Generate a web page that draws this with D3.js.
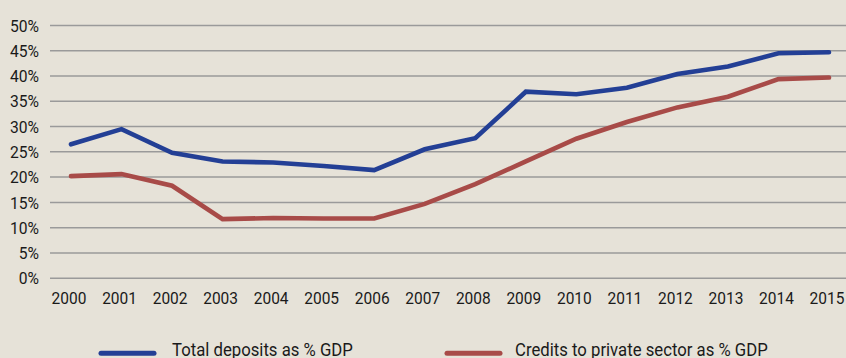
<!DOCTYPE html>
<html>
<head>
<meta charset="utf-8">
<script src="https://cdn.jsdelivr.net/npm/d3@7"></script>
<style>
  html, body { margin: 0; padding: 0; background: #e6e2d8; }
  svg { display: block; }
  text { font-family: Roboto, "Noto Sans", sans-serif; fill: #1a1a1a; }
</style>
</head>
<body>
<svg id="chart" width="846" height="358"></svg>
<script>
// Years on the horizontal axis
const years = [2000, 2001, 2002, 2003, 2004, 2005, 2006, 2007,
               2008, 2009, 2010, 2011, 2012, 2013, 2014, 2015];

// Total deposits, % of GDP
const deposits = [26.4, 29.4, 24.7, 23.0, 22.8, 22.1, 21.3, 25.4,
                  27.6, 36.8, 36.3, 37.6, 40.3, 41.8, 44.4, 44.6];

// Credits to the private sector, % of GDP
const credits = [20.1, 20.5, 18.2, 11.6, 11.8, 11.7, 11.7, 14.6,
                 18.5, 23.0, 27.5, 30.8, 33.7, 35.8, 39.3, 39.6];

// Percent ticks on the vertical axis
const yTicks = [0, 5, 10, 15, 20, 25, 30, 35, 40, 45, 50];

const seriesNames = ["Total deposits as % GDP", "Credits to private sector as % GDP"];
const seriesColors = ["#233f95", "#a84b48"];

const W = 846, H = 358;
const gridLeft = 50, gridRight = W;
const svg = d3.select("#chart");

svg.append("rect").attr("width", W).attr("height", H).attr("fill", "#e6e2d8");

const x = d3.scalePoint().domain(years).range([71, 829]);
const y = d3.scaleLinear().domain([0, 50]).range([277.7, 25]);

// Condense text horizontally to mimic a narrow typeface
function condense(sel, k) {
  sel.each(function () {
    const len = this.getComputedTextLength();
    d3.select(this).attr("textLength", len * k).attr("lengthAdjust", "spacingAndGlyphs");
  });
}

// Horizontal gridlines with percent labels
const yAxis = svg.append("g")
  .attr("transform", `translate(${gridLeft},0)`)
  .call(d3.axisLeft(y)
    .tickValues(yTicks)
    .tickSize(-(gridRight - gridLeft))
    .tickPadding(11)
    .tickFormat(d => d + "%"));
yAxis.select(".domain").remove();
yAxis.selectAll(".tick line").attr("stroke", "#9a9a9a").attr("stroke-width", 1.5);
yAxis.selectAll(".tick text")
  .attr("font-size", 17).attr("fill", "#1a1a1a")
  .attr("font-family", "Roboto, sans-serif")
  .attr("dy", "0.36em");
condense(yAxis.selectAll(".tick text"), 0.92);

// Year labels
const xAxis = svg.append("g")
  .attr("transform", `translate(0,${y(0)})`)
  .call(d3.axisBottom(x).tickSize(0).tickPadding(14).tickFormat(d3.format("d")));
xAxis.select(".domain").remove();
xAxis.selectAll(".tick text")
  .attr("font-size", 17).attr("fill", "#1a1a1a")
  .attr("font-family", "Roboto, sans-serif")
  .attr("dx", -2.5);
condense(xAxis.selectAll(".tick text"), 0.91);

// Series lines
const line = d3.line().x((d, i) => x(years[i])).y(d => y(d));
[deposits, credits].forEach((vals, k) => {
  svg.append("path")
    .datum(vals)
    .attr("d", line)
    .attr("fill", "none")
    .attr("stroke", seriesColors[k])
    .attr("stroke-width", 4.6)
    .attr("stroke-linejoin", "miter")
    .attr("stroke-linecap", "round");
});

// Legend
const legendItems = [
  { x0: 101, x1: 154, tx: 172 },
  { x0: 447, x1: 500, tx: 515 }
];
const legend = svg.append("g");
legendItems.forEach((it, k) => {
  legend.append("line")
    .attr("x1", it.x0).attr("x2", it.x1)
    .attr("y1", 353.3).attr("y2", 353.3)
    .attr("stroke", seriesColors[k])
    .attr("stroke-width", 5)
    .attr("stroke-linecap", "round");
  legend.append("text")
    .attr("x", it.tx).attr("y", 356)
    .attr("font-size", 19)
    .text(seriesNames[k]);
});
condense(legend.selectAll("text"), 0.88);
</script>
</body>
</html>
